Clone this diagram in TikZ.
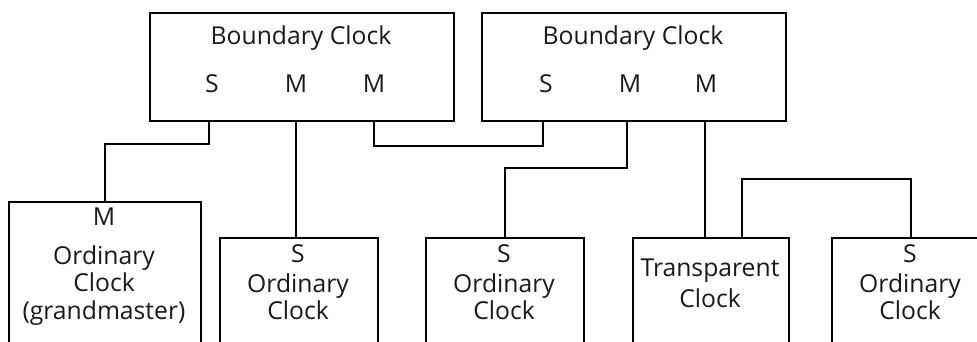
\documentclass[tikz,border=0pt]{standalone}
\usepackage{fontspec}
\setmainfont{Open Sans}
\begin{document}
\begin{tikzpicture}[x=1pt,y=-1pt,
  box/.style={draw=black,line width=1.7pt,anchor=north west,inner sep=0pt,line join=miter},
  lbl/.style={anchor=base,inner sep=0pt,text=black!90,font=\fontsize{24.7}{29}\selectfont},
  wire/.style={draw=black,line width=1.7pt,line join=miter}]
\useasboundingbox (0,0) rectangle (977,341);
\clip (0,0) rectangle (977,341);
% boundary clocks
\node[box,minimum width=304pt,minimum height=108pt] (bc1) at (149,12) {};
\node[box,minimum width=304pt,minimum height=108pt] (bc2) at (481,12) {};
\node[lbl] (bc1t) at (301,44) {Boundary Clock};
\node[lbl] (bc1s) at (212,92.5) {S};
\node[lbl] (bc1m1) at (296,92.5) {M};
\node[lbl] (bc1m2) at (374,92.5) {M};
\node[lbl] (bc2t) at (633,44) {Boundary Clock};
\node[lbl] (bc2s) at (546,92.5) {S};
\node[lbl] (bc2m1) at (630,92.5) {M};
\node[lbl] (bc2m2) at (706,92.5) {M};
\coordinate (bc1p1) at (209,120);
\coordinate (bc1p2) at (296,120);
\coordinate (bc1p3) at (374,120);
\coordinate (bc2p1) at (543,120);
\coordinate (bc2p2) at (627,120);
\coordinate (bc2p3) at (705,120);
% lower clocks
\node[box,minimum width=192pt,minimum height=170pt] (oc1) at (8,201) {};
\node[box,minimum width=158pt,minimum height=140pt] (oc2) at (219,237) {};
\node[box,minimum width=158pt,minimum height=140pt] (oc3) at (425,237) {};
\node[box,minimum width=156pt,minimum height=140pt] (tc) at (632,237) {};
\node[box,minimum width=158pt,minimum height=140pt] (oc5) at (831,237) {};
\node[lbl] (oc1a) at (104,225.5) {M};
\node[lbl] (oc1b) at (104,264) {Ordinary};
\node[lbl] (oc1c) at (104,291.5) {Clock};
\node[lbl] (oc1d) at (104,319) {(grandmaster)};
\node[lbl] (oc2a) at (298,262) {S};
\node[lbl] (oc2b) at (298,292) {Ordinary};
\node[lbl] (oc2c) at (298,319.5) {Clock};
\node[lbl] (oc3a) at (504,262) {S};
\node[lbl] (oc3b) at (504,292) {Ordinary};
\node[lbl] (oc3c) at (504,319.5) {Clock};
\node[lbl] (tca) at (710,276.5) {Transparent};
\node[lbl] (tcb) at (710,307) {Clock};
\node[lbl] (oc5a) at (910,262) {S};
\node[lbl] (oc5b) at (910,292) {Ordinary};
\node[lbl] (oc5c) at (910,319.5) {Clock};
\coordinate (tcp) at (742,237);
% connectors
\draw[wire] (bc1p1) -- ++(0,24) -| (oc1.north);
\draw[wire] (bc1p2) -- (bc1p2 |- oc2.north);
\draw[wire] (bc1p3) -- ++(0,26) -| (bc2p1);
\draw[wire] (bc2p2) -- ++(0,48) -| (oc3.north);
\draw[wire] (bc2p3) -- (bc2p3 |- tc.north);
\draw[wire] (tcp) -- ++(0,-58) -| (oc5.north);
\end{tikzpicture}
\end{document}
